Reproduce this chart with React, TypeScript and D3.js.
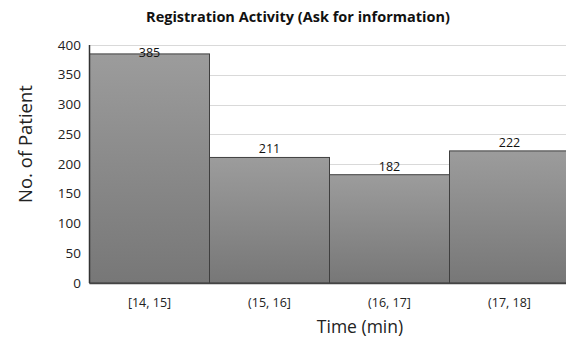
import React, { useEffect, useRef } from "react";
import * as d3 from "d3";

const categories = ["[14, 15]", "(15, 16]", "(16, 17]", "(17, 18]"];
const patients = [385, 211, 182, 222];
const yTicks = [0, 50, 100, 150, 200, 250, 300, 350, 400];

const W = 566;
const H = 342;
const FONT = "'Open Sans', 'Liberation Sans', sans-serif";

export default function App() {
  const ref = useRef<SVGSVGElement | null>(null);

  useEffect(() => {
    const svg = d3.select(ref.current);
    svg.selectAll("*").remove();

    const left = 89.5;
    const top = 45;
    const bottom = 283;
    const step = 120;

    const x = d3
      .scaleBand<string>()
      .domain(categories)
      .range([left, left + step * categories.length])
      .padding(0);
    const y = d3.scaleLinear().domain([0, 400]).range([bottom, top]);

    const defs = svg.append("defs");
    const grad = defs
      .append("linearGradient")
      .attr("id", "barFill")
      .attr("x1", 0)
      .attr("y1", 0)
      .attr("x2", 0)
      .attr("y2", 1);
    grad.append("stop").attr("offset", "0%").attr("stop-color", "#9c9c9c");
    grad.append("stop").attr("offset", "100%").attr("stop-color", "#777777");

    // gridlines
    svg
      .append("g")
      .selectAll("line")
      .data(yTicks.filter((d) => d > 0))
      .join("line")
      .attr("x1", left)
      .attr("x2", W)
      .attr("y1", (d) => Math.round(y(d)) + 0.5)
      .attr("y2", (d) => Math.round(y(d)) + 0.5)
      .attr("stroke", "#d9d9d9")
      .attr("stroke-width", 1);

    // y tick labels
    svg
      .append("g")
      .selectAll("text")
      .data(yTicks)
      .join("text")
      .attr("x", 81)
      .attr("y", (d) => y(d))
      .attr("dy", "0.35em")
      .attr("text-anchor", "end")
      .attr("font-family", FONT)
      .attr("font-size", 13.5)
      .attr("fill", "#222")
      .text((d) => d);

    // bars
    svg
      .append("g")
      .selectAll("rect")
      .data(patients)
      .join("rect")
      .attr("x", (_, i) => x(categories[i])!)
      .attr("y", (d) => y(d))
      .attr("width", x.bandwidth())
      .attr("height", (d) => bottom - y(d))
      .attr("fill", "url(#barFill)")
      .attr("stroke", "#3f3f3f")
      .attr("stroke-width", 1);

    // axis lines
    svg
      .append("line")
      .attr("x1", left)
      .attr("x2", left)
      .attr("y1", top)
      .attr("y2", bottom)
      .attr("stroke", "#333")
      .attr("stroke-width", 1.5);
    svg
      .append("line")
      .attr("x1", left)
      .attr("x2", W)
      .attr("y1", bottom + 0.5)
      .attr("y2", bottom + 0.5)
      .attr("stroke", "#444")
      .attr("stroke-width", 1.5);

    // value labels
    svg
      .append("g")
      .selectAll("text")
      .data(patients)
      .join("text")
      .attr("x", (_, i) => x(categories[i])! + x.bandwidth() / 2)
      .attr("y", (d) => Math.max(y(d) - 4, top + 12))
      .attr("text-anchor", "middle")
      .attr("font-family", FONT)
      .attr("font-size", 12.5)
      .attr("fill", "#111")
      .text((d) => d);

    // x tick labels
    svg
      .append("g")
      .selectAll("text")
      .data(categories)
      .join("text")
      .attr("x", (d) => x(d)! + x.bandwidth() / 2)
      .attr("y", 303)
      .attr("dy", "0.35em")
      .attr("text-anchor", "middle")
      .attr("font-family", FONT)
      .attr("font-size", 12.5)
      .attr("fill", "#222")
      .text((d) => d);

    // axis titles
    svg
      .append("text")
      .attr("x", 360)
      .attr("y", 327)
      .attr("dy", "0.35em")
      .attr("text-anchor", "middle")
      .attr("font-family", FONT)
      .attr("font-size", 17.5)
      .attr("fill", "#222")
      .text("Time (min)");

    svg
      .append("text")
      .attr("transform", `translate(26,144) rotate(-90)`)
      .attr("dy", "0.35em")
      .attr("text-anchor", "middle")
      .attr("font-family", FONT)
      .attr("font-size", 18.5)
      .attr("fill", "#222")
      .text("No. of Patient");

    // title
    svg
      .append("text")
      .attr("x", 298)
      .attr("y", 17)
      .attr("dy", "0.35em")
      .attr("text-anchor", "middle")
      .attr("font-family", FONT)
      .attr("font-size", 14.5)
      .attr("font-weight", "bold")
      .attr("fill", "#111")
      .text("Registration Activity (Ask for information)");
  }, []);

  return (
    <svg
      ref={ref}
      width={W}
      height={H}
      style={{ position: "absolute", left: 0, top: 0, background: "#fff" }}
    />
  );
}
